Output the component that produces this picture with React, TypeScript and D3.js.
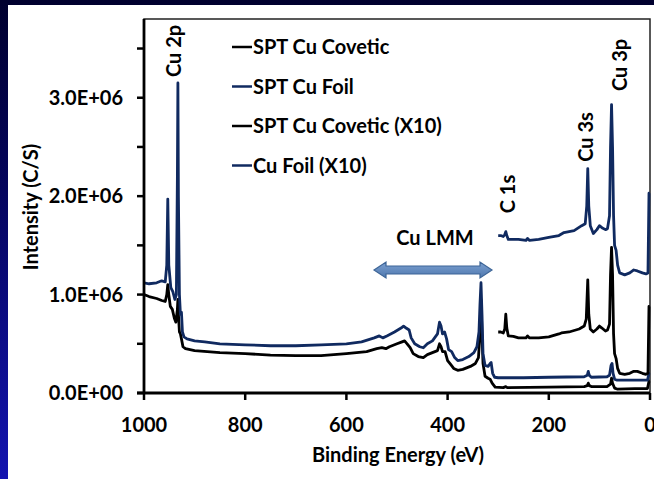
import { useMemo } from 'react';
import * as d3 from 'd3';

// [binding energy (eV), intensity (x1e6 C/S)]
const coveticData: [number, number][] = [
  [1000, 1.0], [990, 0.98], [975, 0.96], [965, 0.94], [958, 0.93], [955, 1.0], [953, 1.1], [951, 1.0],
  [948, 0.88], [944, 0.85], [940, 0.76], [937, 0.72], [934, 0.85], [933, 0.95], [932, 0.8], [930, 0.62],
  [928, 0.6], [926, 0.55], [923, 0.47], [918, 0.45], [900, 0.43], [850, 0.41], [800, 0.4], [750, 0.385],
  [700, 0.38], [650, 0.38], [600, 0.4], [560, 0.42], [540, 0.45], [530, 0.46], [522, 0.45], [515, 0.47],
  [500, 0.5], [490, 0.52], [485, 0.53], [480, 0.5], [474, 0.46], [468, 0.4], [458, 0.37], [448, 0.36],
  [440, 0.39], [430, 0.41], [420, 0.43], [416, 0.5], [413, 0.47], [410, 0.42], [405, 0.42], [400, 0.33],
  [394, 0.29], [388, 0.25], [380, 0.23], [370, 0.24], [355, 0.27], [345, 0.3], [339, 0.36], [336, 0.6],
  [334, 0.95], [332, 0.6], [330, 0.3], [326, 0.17], [320, 0.15], [316, 0.14], [312, 0.1], [306, 0.06],
  [290, 0.055], [285, 0.065], [282, 0.055], [200, 0.06], [130, 0.065], [124, 0.075], [122, 0.1],
  [120, 0.075], [116, 0.065], [85, 0.065], [78, 0.09], [76, 0.15], [74, 0.1], [70, 0.05], [65, 0.04],
  [30, 0.045], [5, 0.045], [2, 0.12], [0.5, 0.12],
];

const foilData: [number, number][] = [
  [1000, 1.12], [990, 1.11], [975, 1.12], [965, 1.14], [958, 1.13], [955, 1.3], [953, 1.97], [951, 1.3],
  [947, 1.07], [943, 1.03], [939, 0.95], [936, 1.0], [934, 2.2], [933, 3.15], [932, 2.0], [930, 1.0],
  [928, 0.8], [926, 0.82], [924, 0.62], [921, 0.57], [915, 0.55], [900, 0.53], [880, 0.52], [850, 0.5],
  [800, 0.49], [750, 0.48], [700, 0.48], [650, 0.49], [600, 0.5], [570, 0.52], [545, 0.56], [535, 0.58],
  [528, 0.56], [520, 0.58], [505, 0.62], [492, 0.66], [487, 0.68], [482, 0.66], [476, 0.64], [472, 0.56],
  [465, 0.5], [455, 0.47], [448, 0.46], [440, 0.5], [430, 0.53], [420, 0.6], [416, 0.72], [413, 0.68],
  [410, 0.6], [406, 0.62], [402, 0.55], [398, 0.44], [392, 0.42], [386, 0.36], [380, 0.33], [370, 0.34],
  [358, 0.37], [348, 0.41], [342, 0.47], [338, 0.62], [336, 0.9], [334, 1.12], [332, 0.8], [330, 0.4],
  [326, 0.28], [320, 0.27], [316, 0.3], [314, 0.31], [311, 0.2], [307, 0.16], [300, 0.155], [250, 0.155],
  [200, 0.16], [130, 0.165], [124, 0.18], [122, 0.22], [120, 0.18], [116, 0.16], [85, 0.165], [80, 0.18],
  [77, 0.28], [75, 0.3], [73, 0.2], [70, 0.14], [65, 0.13], [30, 0.13], [5, 0.13], [2, 0.2], [0.5, 0.2],
];

const coveticX10Data: [number, number][] = [
  [300, 0.62], [295, 0.62], [290, 0.61], [287, 0.65], [285, 0.8], [283, 0.66], [280, 0.58], [270, 0.575],
  [260, 0.56], [245, 0.56], [242, 0.58], [238, 0.56], [220, 0.56], [200, 0.57], [180, 0.6], [175, 0.61],
  [160, 0.62], [140, 0.65], [130, 0.68], [126, 0.75], [123, 1.15], [121, 0.8], [118, 0.65], [112, 0.62],
  [105, 0.65], [100, 0.68], [95, 0.66], [88, 0.63], [84, 0.64], [80, 0.7], [78, 1.2], [76, 1.48],
  [74, 1.2], [72, 0.6], [70, 0.4], [67, 0.35], [64, 0.25], [60, 0.2], [50, 0.19], [40, 0.2], [32, 0.22],
  [25, 0.22], [15, 0.2], [8, 0.19], [4, 0.2], [2, 0.88], [0.5, 0.88],
];

const foilX10Data: [number, number][] = [
  [300, 1.6], [295, 1.6], [290, 1.59], [287, 1.61], [285, 1.64], [283, 1.6], [280, 1.56], [260, 1.56],
  [245, 1.55], [242, 1.57], [238, 1.55], [220, 1.56], [200, 1.58], [180, 1.6], [170, 1.63], [150, 1.65],
  [135, 1.7], [128, 1.72], [125, 1.9], [123, 2.28], [121, 1.9], [118, 1.7], [112, 1.62], [105, 1.66],
  [100, 1.7], [95, 1.68], [88, 1.66], [84, 1.67], [80, 1.8], [78, 2.5], [76, 2.93], [74, 2.5], [72, 1.8],
  [70, 1.5], [67, 1.45], [64, 1.3], [60, 1.22], [50, 1.2], [40, 1.22], [32, 1.25], [25, 1.24], [15, 1.22],
  [8, 1.21], [4, 1.22], [2, 2.03], [0.5, 2.03],
];

const seriesNames = ['SPT Cu Covetic', 'SPT Cu Foil', 'SPT Cu Covetic (X10)', 'Cu Foil (X10)'];
const seriesColors = ['#000000', '#102a60', '#000000', '#102a60'];
const xTicks = [1000, 800, 600, 400, 200, 0];
const yMajorTicks = [0, 1, 2, 3];
const yMinorTicks = [0, 0.5, 1, 1.5, 2, 2.5, 3, 3.5];
const yTickLabels = ['0.0E+00', '1.0E+06', '2.0E+06', '3.0E+06'];
const peakLabels: { text: string; be: number; top: number }[] = [
  { text: 'Cu 2p', be: 940, top: 51 },
  { text: 'Cu 3s', be: 126, top: 137 },
  { text: 'Cu 3p', be: 60, top: 65 },
  { text: 'C 1s', be: 281, top: 194 },
];

const W = 654;
const H = 479;
const FONT = 'Lato, "Open Sans", sans-serif';
const FS = 20;

export default function App() {
  const left = 144, right = 650, top = 19, bottom = 393;
  const x = d3.scaleLinear().domain([1000, 0]).range([left, right]);
  const y = d3.scaleLinear().domain([0, 3.8]).range([bottom, top]);

  const line = useMemo(
    () => d3.line<[number, number]>().x(d => x(d[0])).y(d => y(d[1])),
    []
  );
  const allSeries = [coveticData, foilData, coveticX10Data, foilX10Data];

  // double headed block arrow for Cu LMM
  const ax1 = 374, ax2 = 492, ay = 270, sh = 4, hh = 8, hl = 12;
  const arrow = `M${ax1},${ay} L${ax1 + hl},${ay - hh} L${ax1 + hl},${ay - sh} L${ax2 - hl},${ay - sh} L${ax2 - hl},${ay - hh} L${ax2},${ay} L${ax2 - hl},${ay + hh} L${ax2 - hl},${ay + sh} L${ax1 + hl},${ay + sh} L${ax1 + hl},${ay + hh} Z`;

  return (
    <svg width={W} height={H} style={{ position: 'absolute', left: 0, top: 0 }} fontFamily={FONT}>
      <defs>
        <linearGradient id="bg" x1="0" y1="0" x2="0" y2="1">
          <stop offset="0" stopColor="#00002e" />
          <stop offset="0.4" stopColor="#05055e" />
          <stop offset="1" stopColor="#1414b0" />
        </linearGradient>
        <linearGradient id="arrowFill" x1="0" y1="0" x2="0" y2="1">
          <stop offset="0" stopColor="#7b9fd0" />
          <stop offset="1" stopColor="#4f78ae" />
        </linearGradient>
        <clipPath id="plot">
          <rect x={left} y={top} width={right - left + 2} height={bottom - top} />
        </clipPath>
      </defs>
      <rect width={W} height={H} fill="url(#bg)" />
      <rect x={8} y={5} width={W - 8} height={H - 5} fill="#fff" />

      {/* plot frame */}
      <rect x={left} y={top} width={right - left} height={bottom - top} fill="none" stroke="#222" strokeWidth={1.5} />

      {/* series */}
      <g clipPath="url(#plot)" fill="none" strokeWidth={2.8} strokeLinejoin="round">
        {allSeries.map((s, i) => (
          <path key={i} d={line(s) ?? ''} stroke={seriesColors[i]} />
        ))}
      </g>

      {/* axes */}
      <line x1={left} x2={left} y1={top} y2={bottom} stroke="#000" strokeWidth={2.8} />
      <line x1={left - 7} x2={right} y1={bottom} y2={bottom} stroke="#000" strokeWidth={2.8} />
      {yMinorTicks.map(t => (
        <line key={t} x1={left - 7} x2={left} y1={y(t)} y2={y(t)} stroke="#000" strokeWidth={2.5} />
      ))}
      {yMajorTicks.map((t, i) => (
        <text key={t} x={left - 21} y={y(t) + 7} textAnchor="end" fontSize={FS} fontWeight={700}>
          {yTickLabels[i]}
        </text>
      ))}
      {xTicks.map(t => (
        <g key={t}>
          <line x1={x(t)} x2={x(t)} y1={bottom} y2={bottom + 7} stroke="#000" strokeWidth={2.5} />
          <text x={x(t)} y={432} textAnchor="middle" fontSize={FS} fontWeight={700}>{t}</text>
        </g>
      ))}

      <text x={398} y={462} textAnchor="middle" fontSize={FS} fontWeight={700}>Binding Energy (eV)</text>
      <text transform="translate(38,207) rotate(-90)" textAnchor="middle" fontSize={FS} fontWeight={700}>
        Intensity (C/S)
      </text>

      {/* legend */}
      {seriesNames.map((n, i) => (
        <g key={n} transform={`translate(232,${47 + i * 39.5})`}>
          <line x1={0} x2={20} y1={0} y2={0} stroke={seriesColors[i]} strokeWidth={2.5} />
          <text x={21} y={7} fontSize={FS} fontWeight={700}>{n}</text>
        </g>
      ))}

      {/* peak labels */}
      {peakLabels.map(p => (
        <text key={p.text} transform={`translate(${x(p.be) + 7},${p.top}) rotate(-90)`} textAnchor="middle"
          fontSize={FS} fontWeight={700}>
          {p.text}
        </text>
      ))}
      <text x={435} y={245} textAnchor="middle" fontSize={FS} fontWeight={700}>Cu LMM</text>
      <path d={arrow} fill="url(#arrowFill)" stroke="#3d6597" strokeWidth={1.2} />
    </svg>
  );
}
